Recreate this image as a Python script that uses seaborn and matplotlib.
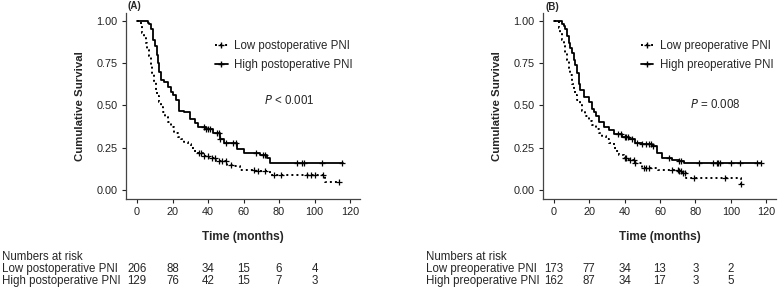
import matplotlib
matplotlib.use("Agg")
import matplotlib.pyplot as plt
from matplotlib.lines import Line2D
from matplotlib.transforms import blended_transform_factory
import numpy as np
import pandas as pd
import seaborn as sns

# ---- panel A: postoperative PNI (step points) ----
a_low_t = [0, 1.1, 2, 3, 4, 4.9, 5.8, 6.8, 7.8, 8.7, 9.6, 10.6, 11.5, 12.5, 13.4, 14.4, 15.8, 17.3, 19, 21,
           23, 24.8, 26.5, 28.5, 30.5, 32.3, 34.2, 37, 40.8, 44.5, 50.5, 54, 58, 66.5, 75, 106, 114]
a_low_s = [1.00, 1.00, 0.97, 0.93, 0.90, 0.87, 0.83, 0.79, 0.74, 0.69, 0.64, 0.59, 0.555, 0.52, 0.49, 0.46, 0.43, 0.40, 0.37, 0.335,
           0.315, 0.30, 0.285, 0.27, 0.25, 0.23, 0.22, 0.20, 0.19, 0.17, 0.15, 0.14, 0.12, 0.11, 0.09, 0.05, 0.05]
a_high_t = [0, 3.6, 6.0, 7.0, 7.9, 8.9, 10, 11.3, 12, 12.6, 13.5, 15.4, 17.3, 19.2, 20.5, 22, 23.9, 26.7, 29.6, 32.4,
            34.3, 39, 43, 47, 49, 56.5, 60, 69, 73, 75, 116]
a_high_s = [1.00, 1.00, 0.99, 0.98, 0.95, 0.89, 0.85, 0.80, 0.75, 0.70, 0.65, 0.64, 0.61, 0.58, 0.56, 0.53, 0.47, 0.46, 0.42, 0.395,
            0.375, 0.36, 0.335, 0.30, 0.28, 0.24, 0.22, 0.21, 0.19, 0.16, 0.16]
a_low_cens = [35, 36, 38, 40, 42, 44, 46, 48, 50, 53, 66, 68, 72, 77, 81, 96, 98, 100, 105, 114]
a_high_cens = [38, 39, 40, 41, 45, 46, 47, 50, 54, 56, 67, 71, 72, 90, 93, 94, 104, 115.5]

# ---- panel B: preoperative PNI ----
b_low_t = [0, 1.7, 2.6, 3.6, 4.5, 5.5, 6.4, 7.4, 8.3, 9.3, 10.2, 11.2, 12.1, 13, 14.5, 15.9, 17.8, 19.7, 21.6, 23.5,
           25.4, 27.3, 29.2, 31, 33.9, 35.3, 36.7, 39.6, 42.4, 46, 50, 59, 70.7, 72.6, 74.5, 106, 106.5]
b_low_s = [1.00, 1.00, 0.96, 0.93, 0.89, 0.85, 0.81, 0.77, 0.72, 0.68, 0.63, 0.59, 0.56, 0.53, 0.50, 0.47, 0.44, 0.41, 0.385, 0.36,
           0.34, 0.32, 0.30, 0.28, 0.25, 0.23, 0.21, 0.19, 0.18, 0.16, 0.13, 0.12, 0.11, 0.10, 0.07, 0.035, 0.035]
b_high_t = [0, 2.7, 4.5, 5.5, 6.4, 7.3, 8.3, 9.3, 10.2, 11.2, 12, 13, 14, 14.9, 16.9, 19.7, 21.6, 22.6, 23.5, 25.4,
            28.2, 31, 33.9, 38.6, 42.4, 46, 50, 55.5, 58.4, 61, 67, 70.7, 73.5, 117]
b_high_s = [1.00, 1.00, 0.98, 0.97, 0.95, 0.91, 0.87, 0.84, 0.81, 0.77, 0.74, 0.69, 0.63, 0.59, 0.55, 0.52, 0.48, 0.46, 0.44, 0.40,
            0.37, 0.355, 0.33, 0.315, 0.30, 0.28, 0.27, 0.26, 0.22, 0.19, 0.18, 0.17, 0.16, 0.16]
b_low_cens = [40, 41, 43, 45, 46, 51, 52, 54, 67, 70, 71, 72, 73, 74, 79, 97, 106]
b_high_cens = [36, 38, 40, 41, 42, 44, 47, 50, 52, 54, 55, 56, 65, 71, 72, 82, 90, 92, 93, 94, 100, 105, 115, 117]

risk_times = [0, 20, 40, 60, 80, 100]
a_risk_low = [206, 88, 34, 15, 6, 4]
a_risk_high = [129, 76, 42, 15, 7, 3]
b_risk_low = [173, 77, 34, 13, 3, 2]
b_risk_high = [162, 87, 34, 17, 3, 5]

sns.set_style("ticks")
plt.rcParams["font.family"] = ["Liberation Sans", "DejaVu Sans"]

W, H = 778, 304
fig = plt.figure(figsize=(W / 100, H / 100), dpi=100)
TXT = 8.3


def surv_at(ts, ss, c):
    idx = np.searchsorted(ts, c, side="right") - 1
    return [ss[i] for i in idx]


def draw_panel(ax, low, high, low_c, high_c, names, pval, risk_low, risk_high, leg_x, p_xy):
    lo = pd.DataFrame({"t": low[0], "s": low[1]})
    hi = pd.DataFrame({"t": high[0], "s": high[1]})
    sns.lineplot(data=lo, x="t", y="s", drawstyle="steps-post", color="black",
                 linestyle=(0, (1, 1.6)), lw=1.4, ax=ax)
    sns.lineplot(data=hi, x="t", y="s", drawstyle="steps-post", color="black", lw=1.3, ax=ax)
    # censored observations as "+" on the curves
    for tt, ss, cc in [(low[0], low[1], low_c), (high[0], high[1], high_c)]:
        cdf = pd.DataFrame({"t": cc, "s": surv_at(np.array(tt), ss, np.array(cc))})
        sns.scatterplot(data=cdf, x="t", y="s", marker="+", s=22, color="black", linewidth=0.9, ax=ax)

    ax.set_xlim(-6.2, 125.6)
    ax.set_ylim(-0.053, 1.047)
    ax.set_xticks(risk_times + [120])
    ax.set_yticks([0, 0.25, 0.5, 0.75, 1.0])
    ax.set_yticklabels(["0.00", "0.25", "0.50", "0.75", "1.00"])
    ax.tick_params(labelsize=7.8, length=3, width=0.8, pad=3, colors="#222222")
    for sp in ["left", "bottom"]:
        ax.spines[sp].set_linewidth(0.9)
        ax.spines[sp].set_color("#444444")
    sns.despine(ax=ax)
    ax.set_xlabel("Time (months)", fontsize=8.6, fontweight="bold", labelpad=10)
    ax.set_ylabel("Cumulative Survival", fontsize=8.2, fontweight="bold", labelpad=8)

    handles = [Line2D([], [], color="black", linestyle=(0, (1, 1.6)), lw=1.4, marker="+", markersize=5),
               Line2D([], [], color="black", lw=1.3, marker="+", markersize=5)]
    ax.legend(handles, names, loc="upper left", bbox_to_anchor=(leg_x, 0.885), frameon=False,
              fontsize=TXT, handlelength=1.1, handletextpad=0.6, labelspacing=0.62, borderpad=0)
    tr = blended_transform_factory(ax.transData, ax.transAxes)
    ax.text(p_xy[0], p_xy[1], pval, fontsize=TXT, ha="center", va="center", transform=tr)

    for t, a, b in zip(risk_times, risk_low, risk_high):
        ax.text(t, -0.376, str(a), transform=tr, fontsize=TXT, ha="center", va="center")
        ax.text(t, -0.441, str(b), transform=tr, fontsize=TXT, ha="center", va="center")


ax_a = fig.add_axes([126 / W, 1 - 199 / H, 234 / W, 186 / H])
draw_panel(ax_a, (a_low_t, a_low_s), (a_high_t, a_high_s), a_low_cens, a_high_cens,
           ["Low postoperative PNI", "High postoperative PNI"], "$P$ < 0.001",
           a_risk_low, a_risk_high, 0.355, (85.6, 0.53))
ax_b = fig.add_axes([543 / W, 1 - 199 / H, 233 / W, 186 / H])
draw_panel(ax_b, (b_low_t, b_low_s), (b_high_t, b_high_s), b_low_cens, b_high_cens,
           ["Low preoperative PNI", "High preoperative PNI"], "$P$ = 0.008",
           b_risk_low, b_risk_high, 0.395, (91, 0.51))

fig.text(128 / W, 1 - 6 / H, "(A)", fontsize=7, fontweight="bold", ha="left", va="center")
fig.text(546 / W, 1 - 7 / H, "(B)", fontsize=7, fontweight="bold", ha="left", va="center")

for x0, lab_low, lab_high in [(2, "Low postoperative PNI", "High postoperative PNI"),
                              (426, "Low preoperative PNI", "High preoperative PNI")]:
    fig.text(x0 / W, 1 - 257 / H, "Numbers at risk", fontsize=TXT, ha="left", va="center")
    fig.text(x0 / W, 1 - 269 / H, lab_low, fontsize=TXT, ha="left", va="center")
    fig.text(x0 / W, 1 - 281 / H, lab_high, fontsize=TXT, ha="left", va="center")

fig.savefig("out.png", dpi=100)
